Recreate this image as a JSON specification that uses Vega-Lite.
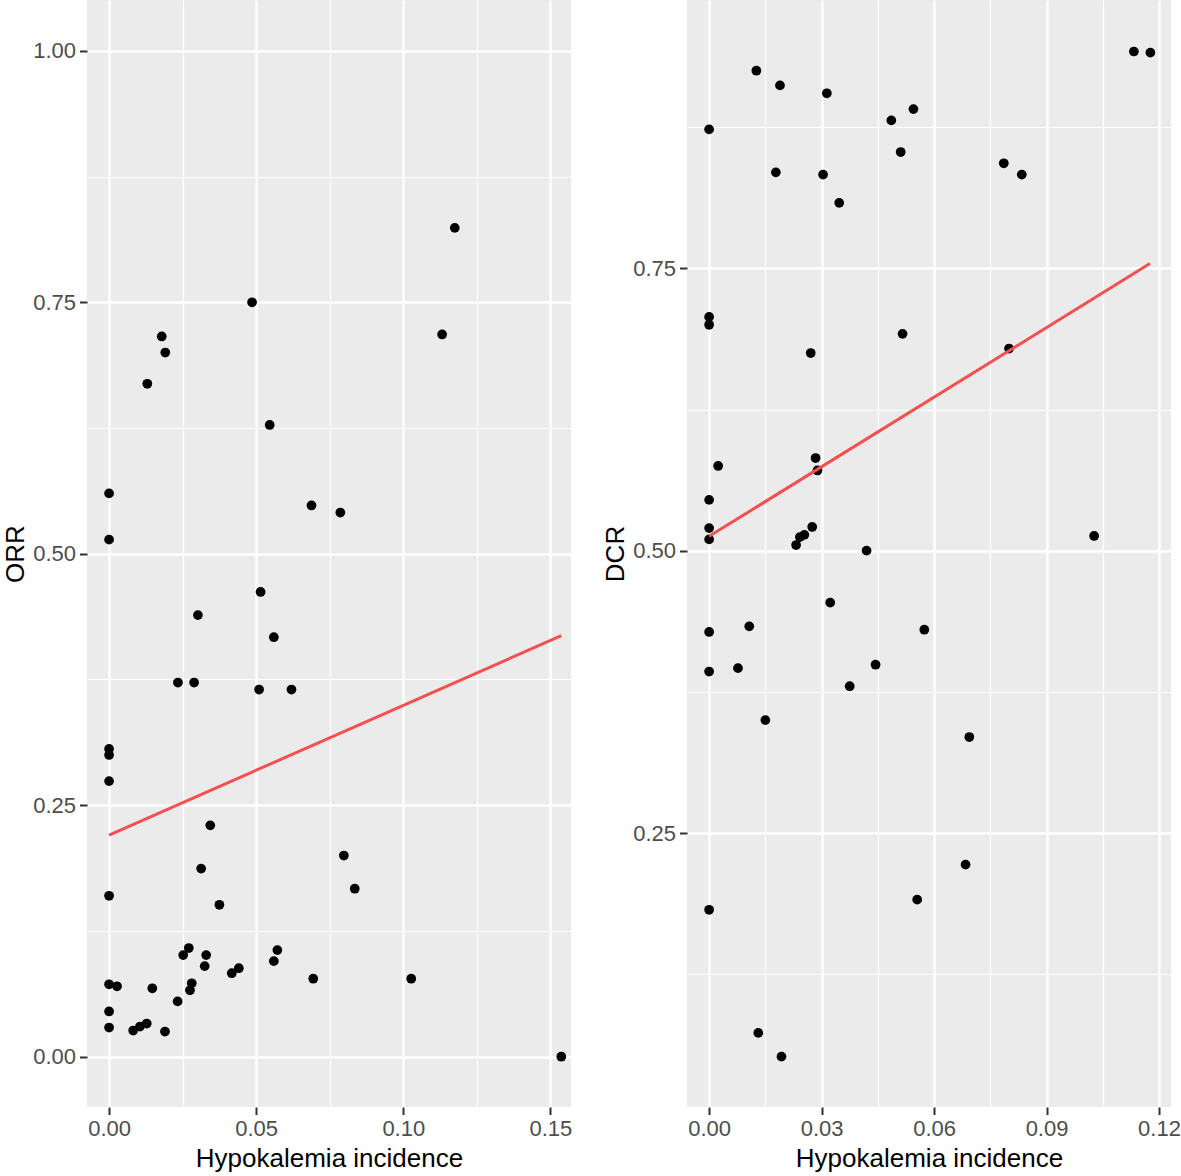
{
  "$schema": "https://vega.github.io/schema/vega-lite/v6.json",
  "background": "white",
  "padding": {"left": 2, "top": 0, "right": 0, "bottom": 0},
  "spacing": 30,
  "datasets": {
    "orr": [
      {"incidence": 0.1175, "rate": 0.824}, {"incidence": 0.0486, "rate": 0.750}, {"incidence": 0.0179, "rate": 0.716},
      {"incidence": 0.1132, "rate": 0.718}, {"incidence": 0.0191, "rate": 0.700}, {"incidence": 0.0130, "rate": 0.669},
      {"incidence": 0.0546, "rate": 0.628}, {"incidence": 0.0, "rate": 0.560}, {"incidence": 0.0688, "rate": 0.548},
      {"incidence": 0.0786, "rate": 0.541}, {"incidence": 0.0, "rate": 0.514}, {"incidence": 0.0515, "rate": 0.462},
      {"incidence": 0.0302, "rate": 0.439}, {"incidence": 0.0560, "rate": 0.417}, {"incidence": 0.0234, "rate": 0.372},
      {"incidence": 0.0289, "rate": 0.372}, {"incidence": 0.0510, "rate": 0.365}, {"incidence": 0.0620, "rate": 0.365},
      {"incidence": 0.0, "rate": 0.306}, {"incidence": 0.0, "rate": 0.300}, {"incidence": 0.0, "rate": 0.274},
      {"incidence": 0.0344, "rate": 0.230}, {"incidence": 0.0798, "rate": 0.200}, {"incidence": 0.0313, "rate": 0.187},
      {"incidence": 0.0835, "rate": 0.167}, {"incidence": 0.0, "rate": 0.160}, {"incidence": 0.0375, "rate": 0.151},
      {"incidence": 0.0271, "rate": 0.108}, {"incidence": 0.0572, "rate": 0.106}, {"incidence": 0.0252, "rate": 0.101},
      {"incidence": 0.0330, "rate": 0.101}, {"incidence": 0.0560, "rate": 0.095}, {"incidence": 0.0325, "rate": 0.090},
      {"incidence": 0.0441, "rate": 0.088}, {"incidence": 0.0417, "rate": 0.083}, {"incidence": 0.0, "rate": 0.072},
      {"incidence": 0.0027, "rate": 0.070}, {"incidence": 0.0281, "rate": 0.073}, {"incidence": 0.0275, "rate": 0.066},
      {"incidence": 0.0147, "rate": 0.068}, {"incidence": 0.0694, "rate": 0.0775}, {"incidence": 0.1027, "rate": 0.0775},
      {"incidence": 0.0233, "rate": 0.055}, {"incidence": 0.0, "rate": 0.045}, {"incidence": 0.0, "rate": 0.029},
      {"incidence": 0.0082, "rate": 0.026}, {"incidence": 0.0105, "rate": 0.030}, {"incidence": 0.0128, "rate": 0.033},
      {"incidence": 0.0190, "rate": 0.025}, {"incidence": 0.1537, "rate": 0.0}
    ],
    "orrfit": [
      {"incidence": 0.0, "rate": 0.2203}, {"incidence": 0.1537, "rate": 0.4185}
    ],
    "dcr": [
      {"incidence": 0.1133, "rate": 0.942}, {"incidence": 0.1177, "rate": 0.941}, {"incidence": 0.0126, "rate": 0.925},
      {"incidence": 0.0189, "rate": 0.912}, {"incidence": 0.0314, "rate": 0.905}, {"incidence": 0.0545, "rate": 0.891},
      {"incidence": 0.0486, "rate": 0.881}, {"incidence": 0.0, "rate": 0.873}, {"incidence": 0.0511, "rate": 0.853},
      {"incidence": 0.0786, "rate": 0.843}, {"incidence": 0.0178, "rate": 0.835}, {"incidence": 0.0304, "rate": 0.833},
      {"incidence": 0.0834, "rate": 0.833}, {"incidence": 0.0347, "rate": 0.808}, {"incidence": 0.0, "rate": 0.707},
      {"incidence": 0.0, "rate": 0.700}, {"incidence": 0.0516, "rate": 0.692}, {"incidence": 0.0271, "rate": 0.675},
      {"incidence": 0.0800, "rate": 0.679}, {"incidence": 0.0284, "rate": 0.582}, {"incidence": 0.0024, "rate": 0.575},
      {"incidence": 0.0289, "rate": 0.571}, {"incidence": 0.0, "rate": 0.545}, {"incidence": 0.0, "rate": 0.520},
      {"incidence": 0.0275, "rate": 0.521}, {"incidence": 0.0242, "rate": 0.512}, {"incidence": 0.0254, "rate": 0.514},
      {"incidence": 0.0232, "rate": 0.505}, {"incidence": 0.0, "rate": 0.510}, {"incidence": 0.0420, "rate": 0.500},
      {"incidence": 0.1027, "rate": 0.513}, {"incidence": 0.0323, "rate": 0.454}, {"incidence": 0.0107, "rate": 0.433},
      {"incidence": 0.0, "rate": 0.428}, {"incidence": 0.0574, "rate": 0.430}, {"incidence": 0.0, "rate": 0.393},
      {"incidence": 0.0077, "rate": 0.396}, {"incidence": 0.0444, "rate": 0.399}, {"incidence": 0.0375, "rate": 0.380},
      {"incidence": 0.0150, "rate": 0.350}, {"incidence": 0.0694, "rate": 0.335}, {"incidence": 0.0684, "rate": 0.222},
      {"incidence": 0.0555, "rate": 0.191}, {"incidence": 0.0, "rate": 0.182}, {"incidence": 0.0131, "rate": 0.073},
      {"incidence": 0.0193, "rate": 0.052}
    ],
    "dcrfit": [
      {"incidence": 0.0, "rate": 0.5127}, {"incidence": 0.1176, "rate": 0.7542}
    ]
  },
  "hconcat": [
    {
      "width": 484,
      "height": 1107,
      "encoding": {
        "x": {
          "field": "incidence",
          "type": "quantitative",
          "title": "Hypokalemia incidence",
          "scale": {"domain": [-0.0075, 0.157], "nice": false, "zero": false},
          "axis": {
            "values": [0, 0.025, 0.05, 0.075, 0.1, 0.125, 0.15],
            "labelExpr": "abs(datum.value * 20 - round(datum.value * 20)) < 1e-6 ? format(datum.value, '.2f') : ''",
            "gridWidth": {"condition": {"test": "abs(datum.value * 20 - round(datum.value * 20)) < 1e-6", "value": 2.4}, "value": 1.2},
            "tickOpacity": {"condition": {"test": "abs(datum.value * 20 - round(datum.value * 20)) < 1e-6", "value": 1}, "value": 0},
            "titlePadding": 6
          }
        },
        "y": {
          "field": "rate",
          "type": "quantitative",
          "title": "ORR",
          "scale": {"domain": [-0.05, 1.0505], "nice": false, "zero": false},
          "axis": {
            "values": [0, 0.125, 0.25, 0.375, 0.5, 0.625, 0.75, 0.875, 1],
            "labelExpr": "abs(datum.value * 4 - round(datum.value * 4)) < 1e-6 ? format(datum.value, '.2f') : ''",
            "gridWidth": {"condition": {"test": "abs(datum.value * 4 - round(datum.value * 4)) < 1e-6", "value": 2.4}, "value": 1.2},
            "tickOpacity": {"condition": {"test": "abs(datum.value * 4 - round(datum.value * 4)) < 1e-6", "value": 1}, "value": 0},
            "titlePadding": 4
          }
        }
      },
      "layer": [
        {"data": {"name": "orr"}, "mark": {"type": "circle", "size": 95, "color": "black", "opacity": 1}},
        {"data": {"name": "orrfit"}, "mark": {"type": "line", "color": "#F55050", "strokeWidth": 3}}
      ]
    },
    {
      "width": 484,
      "height": 1107,
      "encoding": {
        "x": {
          "field": "incidence",
          "type": "quantitative",
          "title": "Hypokalemia incidence",
          "scale": {"domain": [-0.0059, 0.1232], "nice": false, "zero": false},
          "axis": {
            "values": [0, 0.015, 0.03, 0.045, 0.06, 0.075, 0.09, 0.105, 0.12],
            "labelExpr": "abs(datum.value / 0.03 - round(datum.value / 0.03)) < 1e-6 ? format(datum.value, '.2f') : ''",
            "gridWidth": {"condition": {"test": "abs(datum.value / 0.03 - round(datum.value / 0.03)) < 1e-6", "value": 2.4}, "value": 1.2},
            "tickOpacity": {"condition": {"test": "abs(datum.value / 0.03 - round(datum.value / 0.03)) < 1e-6", "value": 1}, "value": 0},
            "titlePadding": 6
          }
        },
        "y": {
          "field": "rate",
          "type": "quantitative",
          "title": "DCR",
          "scale": {"domain": [0.0074, 0.9876], "nice": false, "zero": false},
          "axis": {
            "values": [0.125, 0.25, 0.375, 0.5, 0.625, 0.75, 0.875],
            "labelExpr": "abs(datum.value * 4 - round(datum.value * 4)) < 1e-6 ? format(datum.value, '.2f') : ''",
            "gridWidth": {"condition": {"test": "abs(datum.value * 4 - round(datum.value * 4)) < 1e-6", "value": 2.4}, "value": 1.2},
            "tickOpacity": {"condition": {"test": "abs(datum.value * 4 - round(datum.value * 4)) < 1e-6", "value": 1}, "value": 0},
            "titlePadding": 4
          }
        }
      },
      "layer": [
        {"data": {"name": "dcr"}, "mark": {"type": "circle", "size": 95, "color": "black", "opacity": 1}},
        {"data": {"name": "dcrfit"}, "mark": {"type": "line", "color": "#F55050", "strokeWidth": 3}}
      ]
    }
  ],
  "config": {
    "font": "Liberation Sans",
    "view": {"stroke": null, "fill": "#EBEBEB"},
    "axis": {
      "domain": false,
      "grid": true,
      "gridColor": "white",
      "tickColor": "#333333",
      "tickSize": 7.5,
      "tickWidth": 2,
      "labelColor": "#4D4D4D",
      "labelFontSize": 22,
      "labelPadding": 4,
      "labelOverlap": false,
      "labelFlush": false,
      "titleFontSize": 26,
      "titleFontWeight": "normal",
      "titleColor": "black"
    }
  }
}
